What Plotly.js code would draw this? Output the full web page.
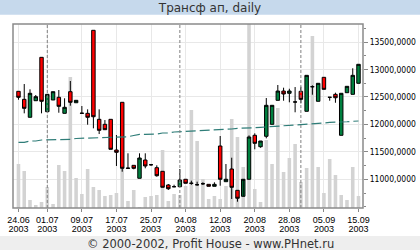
<!DOCTYPE html>
<html>
<head>
<meta charset="utf-8">
<script src="https://cdn.plot.ly/plotly-3.0.1.min.js"></script>
<style>
html,body{margin:0;padding:0;background:#fff;}
#chart{width:420px;height:250px;}
</style>
</head>
<body>
<div id="chart"></div>
<script>
// ---- data ----
const dates = ['24.06','25.06','26.06','27.06','30.06','01.07','02.07','03.07','04.07','07.07',
  '08.07','09.07','10.07','11.07','14.07','15.07','16.07','17.07','18.07','21.07',
  '22.07','23.07','24.07','25.07','28.07','29.07','30.07','31.07','01.08','04.08',
  '05.08','06.08','07.08','08.08','11.08','12.08','13.08','14.08','15.08','18.08',
  '19.08','20.08','21.08','22.08','25.08','26.08','27.08','28.08','29.08','01.09',
  '02.09','03.09','04.09','05.09','08.09','09.09','10.09','11.09','12.09','15.09'];
const year = '2003';
const tickDates = ['24.06','01.07','09.07','17.07','25.07','04.08','12.08','20.08','28.08','05.09','15.09'];
const priceTicks = [11000, 11500, 12000, 12500, 13000, 13500];

const openP  = [12603,12457,12130,12432,13222,12232,12445,12494,12202,12596,
  12395,12205,12202,13714,12093,12002,12093,11534,12403,11205,
  11255,11019,11352,11266,11212,11146,10897,10866,10866,11001,
  10928,10902,10920,10909,10873,11607,10957,11188,10800,10691,
  11001,11802,11594,11784,12002,12439,12608,12567,12410,12603,
  12239,12687,12421,12858,12494,12548,11802,12578,12548,12749];
const highP  = [12603,12736,12639,12536,13222,12548,12596,12627,12476,12791,
  12439,12335,12275,13714,12275,12080,12093,11807,12403,11474,
  11255,11474,11474,11280,11255,11146,10915,10902,11188,11001,
  10975,10957,10946,10909,10946,11789,11279,11394,10800,10691,
  11800,11838,11698,12481,12348,12718,12669,12650,12681,12687,
  12894,12712,12749,12858,12494,12578,12567,12694,13022,13095];
const lowP   = [12450,12202,12130,12432,12202,12232,12445,12213,12202,12341,
  12395,12202,11995,11929,11825,11904,11547,11243,11139,11201,
  11183,11019,11201,11245,11048,10855,10806,10855,10866,10928,
  10902,10884,10897,10873,10873,10884,10957,10642,10593,10691,
  11001,11547,11576,11747,12002,12439,12432,12403,12221,12384,
  12239,12541,12421,12639,12432,12395,11802,12578,12548,12749];
const closeP = [12494,12293,12567,12505,12421,12548,12596,12330,12312,12403,
  12439,12202,12130,12140,11893,11904,11547,11492,11201,11201,
  11201,11388,11243,11266,11066,10855,10829,10866,10988,10928,
  10928,10902,10920,10873,10909,11001,11001,10855,10655,11001,
  11771,11656,11698,12348,12348,12608,12554,12608,12408,12457,
  12894,12687,12749,12639,12494,12486,12567,12694,12894,13095];
const maLine = [11674,11674,11698,11698,11716,11716,11716,11722,11729,11729,
  11744,11747,11753,11765,11765,11765,11765,11771,11776,11776,
  11798,11820,11820,11820,11825,11844,11844,11862,11867,11875,
  11880,11880,11880,11889,11898,11898,11911,11917,11929,11929,
  11935,11940,11947,11953,11966,11971,11977,11989,11989,11995,
  12002,12002,12020,12026,12038,12038,12044,12049,12057,12062];
const volume = [44,37,8,3,6,21,4,43,37,131,
  30,14,39,21,18,12,13,15,40,7,
  18,1,11,12,13,58,7,14,13,22,
  98,67,29,9,12,9,22,89,71,41,
  200,19,6,68,44,100,36,50,64,26,
  40,172,41,15,49,33,13,8,41,12];

// derived: index of each first trading day of a new month
const monthStartIdx = [];
dates.forEach((d,i)=>{ if(i>0 && d.slice(3)!==dates[i-1].slice(3)) monthStartIdx.push(i); });

const FONT_SANS = 'Liberation Sans, Arial, sans-serif';
const FONT_NARROW = 'DejaVu Sans Condensed, Liberation Sans Narrow, Liberation Sans, sans-serif';

const traces = [
  {type:'bar', x:dates, y:volume, xaxis:'x', yaxis:'y', width:0.62,
   marker:{color:'#d3d3d3', line:{width:0}}, hoverinfo:'skip', showlegend:false},
  {type:'scatter', mode:'lines', x:dates, y:maLine, xaxis:'x', yaxis:'y2',
   line:{color:'#2f7d78', width:1.2, dash:'10px,4px'}, hoverinfo:'skip', showlegend:false},
  {type:'candlestick', x:dates, open:openP, high:highP, low:lowP, close:closeP,
   xaxis:'x', yaxis:'y2',
   increasing:{fillcolor:'#00803f', line:{color:'#000', width:1}},
   decreasing:{fillcolor:'#ff0000', line:{color:'#000', width:1}},
   whiskerwidth:0, hoverinfo:'skip', showlegend:false},
  {type:'scatter', mode:'lines', x:dates, y:dates.map(()=>null), xaxis:'x2', yaxis:'y',
   hoverinfo:'skip', showlegend:false}
];

const shapes = [
  {type:'rect', xref:'paper', yref:'paper', x0:-0.05, x1:1.2, y0:1.05, y1:1.14,
   fillcolor:'#c6d9ec', line:{width:0}, layer:'below'},
  {type:'rect', xref:'paper', yref:'paper', x0:-0.05, x1:1.2, y0:-0.152, y1:-0.24,
   fillcolor:'#eeeeee', line:{width:0}, layer:'below'}
];
monthStartIdx.forEach(i=>{
  shapes.push({type:'line', xref:'x', yref:'paper', x0:i, x1:i, y0:0, y1:1,
    line:{color:'#808080', width:1, dash:'3px,2px'}, layer:'above'});
});
shapes.push({type:'rect', xref:'paper', yref:'paper', x0:0, x1:1, y0:0, y1:1,
  line:{color:'#8a8a8a', width:1.5}, fillcolor:'rgba(0,0,0,0)', layer:'above'});

const layout = {
  width:420, height:250,
  margin:{l:13, r:57, t:24, b:42, pad:0},
  paper_bgcolor:'#ffffff', plot_bgcolor:'#ffffff',
  separators:', ',
  boxgap:0.4, boxgroupgap:0,
  showlegend:false,
  title:{text:'Трансф ап, daily', font:{family:'DejaVu Sans, sans-serif', size:12, color:'#333333'},
    x:0.5, xref:'container', y:0.968, yref:'container', yanchor:'middle'},
  xaxis:{type:'category', range:[-0.95, 59.78], rangeslider:{visible:false},
    tickmode:'array', tickvals:tickDates, ticktext:tickDates,
    ticks:'outside', ticklen:3, tickcolor:'#888', showgrid:true, gridcolor:'#e8e8e8', gridwidth:1,
    showline:false, zeroline:false, fixedrange:true, ticklabelstandoff:0,
    tickfont:{family:FONT_SANS, size:9, color:'#000'}},
  xaxis2:{type:'category', overlaying:'x', matches:'x', side:'bottom', anchor:'y',
    tickmode:'array', tickvals:tickDates, ticktext:tickDates.map(()=>year),
    ticks:'', showgrid:false, showline:false, zeroline:false, ticklabelstandoff:14,
    tickfont:{family:FONT_SANS, size:9, color:'#000'}},
  yaxis:{range:[0,184], visible:false, fixedrange:true},
  yaxis2:{overlaying:'y', side:'right', anchor:'x', range:[10478,13829],
    tickmode:'array', tickvals:priceTicks, tickformat:'.4f',
    ticks:'outside', ticklen:4, tickcolor:'#888',
    minor:{dtick:250, tick0:0, ticks:'outside', ticklen:2, tickcolor:'#888', showgrid:false},
    showgrid:true, gridcolor:'#e8e8e8', gridwidth:1, zeroline:false, showline:false,
    tickfont:{family:FONT_NARROW, size:8.5, color:'#000'}, fixedrange:true},
  shapes:shapes,
  annotations:[{xref:'paper', yref:'paper', x:(210-13)/350, y:-0.195, xanchor:'center', yanchor:'middle',
    text:'© 2000-2002, Profit House - www.PHnet.ru', showarrow:false,
    font:{family:'DejaVu Sans, sans-serif', size:11.5, color:'#333333'}}]
};

Plotly.newPlot('chart', traces, layout, {staticPlot:true, displayModeBar:false});
</script>
</body>
</html>
